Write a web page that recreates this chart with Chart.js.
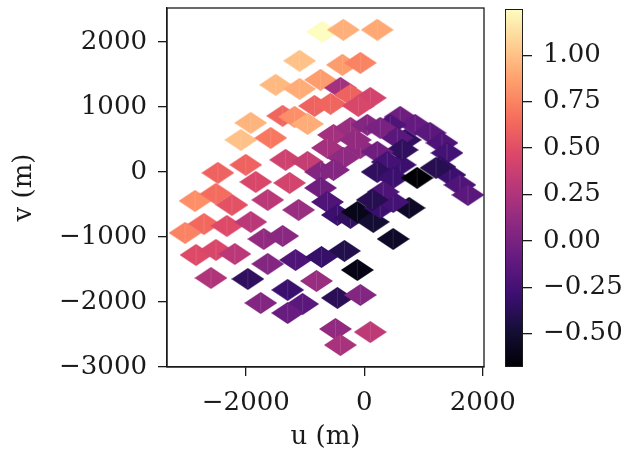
<!DOCTYPE html>
<html>
<head>
<meta charset="utf-8">
<script src="https://cdn.jsdelivr.net/npm/chart.js@4.4.1/dist/chart.umd.min.js"></script>
<style>
  body { margin: 0; background: #fff; }
  #wrap { position: relative; width: 636px; height: 455px; }
  #uv { position: absolute; left: 0; top: 0; }
  #cbar { position: absolute; left: 490px; top: 0; }
</style>
</head>
<body>
<div id="wrap">
  <canvas id="uv" width="636" height="455"></canvas>
  <canvas id="cbar" width="146" height="455"></canvas>
</div>
<script>
// baseline positions (m) and the value coloured at each one
var uVals = [-706, -353, 218, -1092, -370, -67, -1496, -1092, -739, -403,
  -235, 101, -840, -571, -101, -1378, -1176, -1916, -958, -2084,
  -1580, -2471, -2000, -1328, -958, -1832, -1261, -2857, -2504, -2235,
  -1630, -1109, -3025, -2706, -2319, -1916, -1697, -1378, -2840, -2504,
  -2185, -2588, -1966, -1630, -1160, -723, -336, -118, -807, -1294,
  -454, -67, -1748, -1042, -1294, -487, 101, -403, 487, 756,
  // eastern arc
  605, 857, 1109, 1311, 1395, 1277, 1445, 1613, 1748, 437,
  1210, 689, 605,
  // central loop
  -521, -235, 50, 269, 555, 639, -622, -739, -739, -622,
  -454, -235, -118, 151, 269, 487, -353, -67, 218, 387,
  218, 487, 319, 134, 891, -151, -521];
var vVals = [2154, 2185, 2185, 1708, 1646, 1677, 1338, 1277, 1415, 1292,
  1185, 1138, 1015, 1046, 1015, 862, 846, 754, 738, 492,
  523, -15, 108, 185, 154, -154, -169, -446, -338, -508,
  -431, -585, -938, -800, -831, -769, -1031, -985, -1277, -1200,
  -1262, -1631, -1646, -1415, -1354, -1308, -1215, -1508, -1677, -1815,
  -1938, -1892, -2015, -2031, -2169, -2415, -2462, -2662, -1031, -554,
  846, 723, 600, 446, 292, 77, -46, -200, -354, 723,
  62, 492, 108,
  569, 677, 723, 677, 523, 338, 369, 0, -246, -462,
  -662, -708, -615, -769, -554, -462, 215, 369, 308, 154,
  0, -92, -308, -431, -92, 492, 31];
var cVals = [1.25, 0.93, 0.90, 1.00, 0.85, 0.75, 0.97, 0.92, 0.85, 0.20,
  0.60, 0.42, 0.60, 0.62, 0.45, 0.62, 0.80, 0.95, 0.92, 1.00,
  0.70, 0.60, 0.60, 0.40, 0.35, 0.45, 0.42, 0.80, 0.65, 0.52,
  0.30, 0.15, 0.75, 0.63, 0.48, 0.30, 0.12, 0.08, 0.48, 0.45,
  0.30, 0.25, -0.35, 0.05, -0.20, -0.32, -0.42, -0.62, 0.15, -0.30,
  -0.38, 0.05, 0.05, -0.15, -0.08, 0.12, 0.32, 0.22, -0.55, -0.55,
  -0.05, -0.10, -0.15, -0.20, -0.25, -0.35, -0.30, -0.20, -0.15, -0.20,
  -0.40, -0.35, -0.30,
  0.20, 0.15, 0.05, 0.00, -0.15, -0.35, 0.20, 0.05, -0.05, -0.20,
  -0.30, -0.35, -0.60, -0.50, -0.30, -0.25, 0.10, 0.10, -0.05, -0.25,
  -0.35, -0.30, -0.20, -0.40, -0.68, 0.12, 0.05];

var uTicks = [-2000, 0, 2000];
var vTicks = [-3000, -2000, -1000, 0, 1000, 2000];
var cTicks = [-0.5, -0.25, 0, 0.25, 0.5, 0.75, 1.0];

var cMin = Math.min.apply(null, cVals);
var cMax = Math.max.apply(null, cVals);

var magma = ['#000004', '#140e36', '#3b0f70', '#641a80', '#8c2981', '#b73779',
  '#de4968', '#f7705c', '#fe9f6d', '#fecf92', '#fcfdbf'];

var ink = '#1a1a1a';
var font = { family: 'DejaVu Serif', size: 26 };

function hexRgb(h) {
  return [parseInt(h.substr(1, 2), 16), parseInt(h.substr(3, 2), 16), parseInt(h.substr(5, 2), 16)];
}

function magmaAt(t) {
  if (!isFinite(t)) t = 0;
  t = Math.max(0, Math.min(1, t));
  var s = t * (magma.length - 1);
  var i = Math.min(Math.floor(s), magma.length - 2);
  var f = s - i;
  var a = hexRgb(magma[i]), b = hexRgb(magma[i + 1]);
  var rgb = a.map(function(x, k) { return Math.round(x + (b[k] - x) * f); });
  return 'rgb(' + rgb.join(',') + ')';
}

function colorFor(c) {
  return magmaAt((c - cMin) / (cMax - cMin));
}

// one diamond marker per colour, wider than tall
var diamonds = {};
function diamond(col) {
  if (diamonds[col]) return diamonds[col];
  var cv = document.createElement('canvas');
  cv.width = 33;
  cv.height = 22;
  var g = cv.getContext('2d');
  g.fillStyle = col;
  g.beginPath();
  g.moveTo(16.5, 0);
  g.lineTo(33, 11);
  g.lineTo(16.5, 22);
  g.lineTo(0, 11);
  g.closePath();
  g.fill();
  g.fillStyle = 'rgba(255,255,255,0.12)';
  g.fillRect(16, 2, 1, 18);
  diamonds[col] = cv;
  return cv;
}

function fmt(v, d) {
  var s = Math.abs(v).toFixed(d);
  return v < 0 ? '\u2212' + s : s;
}

function fixedTicks(list) {
  return function(scale) {
    scale.ticks = list.map(function(v) { return { value: v }; });
  };
}

// keep tick labels from shrinking the plot area
function fitWidth(w) {
  return function(s) { s.width = w; s.paddingTop = 0; s.paddingBottom = 0; };
}
function fitHeight(h) {
  return function(s) { s.height = h; s.paddingLeft = 0; s.paddingRight = 0; };
}

var frame = {
  id: 'frame',
  afterDraw: function(chart) {
    var a = chart.chartArea, g = chart.ctx;
    g.save();
    g.strokeStyle = ink;
    g.lineWidth = 1.3;
    g.strokeRect(a.left, a.top, a.right - a.left, a.bottom - a.top);
    g.restore();
  }
};

var points = uVals.map(function(u, i) { return { x: u, y: vVals[i] }; });

new Chart(document.getElementById('uv'), {
  type: 'scatter',
  data: {
    datasets: [{
      data: points,
      pointRadius: 5,
      pointStyle: function(ctx) { return diamond(colorFor(cVals[ctx.dataIndex])); }
    }]
  },
  options: {
    responsive: false,
    animation: false,
    layout: { padding: { top: 8, right: 152, left: 0, bottom: 0 } },
    plugins: { legend: { display: false }, tooltip: { enabled: false } },
    scales: {
      x: {
        type: 'linear',
        min: -3330,
        max: 2020,
        afterBuildTicks: fixedTicks(uTicks),
        afterFit: fitHeight(88),
        grid: { drawOnChartArea: false, tickLength: 9, tickColor: ink, lineWidth: 1.3 },
        border: { color: ink, width: 1.3 },
        ticks: { autoSkip: false, maxRotation: 0, padding: 12, color: ink, font: font,
          callback: function(v) { return fmt(v, 0); } },
        title: { display: true, text: 'u (m)', color: ink, font: font, padding: { top: 0, bottom: 2 } }
      },
      y: {
        type: 'linear',
        min: -3000,
        max: 2520,
        afterBuildTicks: fixedTicks(vTicks),
        afterFit: fitWidth(167),
        grid: { drawOnChartArea: false, tickLength: 9, tickColor: ink, lineWidth: 1.3 },
        border: { color: ink, width: 1.3 },
        ticks: { autoSkip: false, padding: 11, color: ink, font: font,
          callback: function(v) { return fmt(v, 0); } },
        title: { display: true, text: 'v (m)', color: ink, font: font, padding: { top: 9, bottom: 0 } }
      }
    }
  },
  plugins: [frame]
});

// colour bar: one floating bar spanning the value range, filled with the map
new Chart(document.getElementById('cbar'), {
  type: 'bar',
  data: {
    labels: [''],
    datasets: [{
      data: [[cMin, cMax]],
      backgroundColor: function(ctx) {
        var a = ctx.chart.chartArea;
        if (!a) return null;
        var gr = ctx.chart.ctx.createLinearGradient(0, a.bottom, 0, a.top);
        magma.forEach(function(c, i) { gr.addColorStop(i / (magma.length - 1), c); });
        return gr;
      },
      borderColor: ink,
      borderWidth: 1.3,
      borderSkipped: false,
      categoryPercentage: 1,
      barPercentage: 1
    }]
  },
  options: {
    responsive: false,
    animation: false,
    layout: { padding: { left: 15, top: 9, bottom: 88, right: 0 } },
    plugins: { legend: { display: false }, tooltip: { enabled: false } },
    scales: {
      x: { display: false },
      y: {
        position: 'right',
        min: cMin,
        max: cMax,
        afterBuildTicks: fixedTicks(cTicks),
        afterFit: fitWidth(113),
        grid: { drawOnChartArea: false, tickLength: 9, tickColor: ink, lineWidth: 1.3 },
        border: { display: false },
        ticks: { autoSkip: false, padding: 11, color: ink, font: font,
          callback: function(v) { return fmt(v, 2); } }
      }
    }
  }
});
</script>
</body>
</html>
